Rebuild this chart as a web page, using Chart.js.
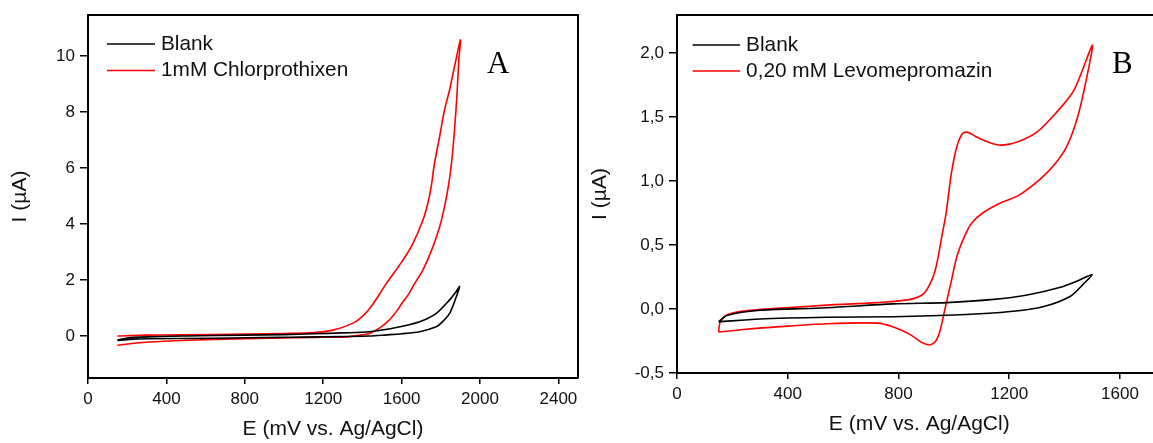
<!DOCTYPE html>
<html>
<head>
<meta charset="utf-8">
<script src="https://cdn.jsdelivr.net/npm/chart.js@4/dist/chart.umd.min.js"></script>
<style>
  html, body { margin: 0; padding: 0; background: #fff; overflow: hidden; }
  #wrap { position: relative; width: 1153px; height: 443px; overflow: hidden; background: #fff; }
  canvas { position: absolute; top: 0; }
  #cA { left: 0; }
  #cB { left: 580px; }
</style>
</head>
<body>
<div id="wrap">
  <canvas id="cA" width="580" height="443"></canvas>
  <canvas id="cB" width="590" height="443"></canvas>
</div>
<script>
// ---------- Panel A data (E in mV, I in µA) ----------
const aLabels = ['Blank', '1mM Chlorprothixen'];
const aBlankE = [150, 200, 300, 500, 800, 1000, 1150, 1300, 1437, 1573, 1692, 1777, 1845, 1875, 1896, 1879, 1845, 1800, 1777, 1692, 1600, 1522, 1437, 1300, 1100, 980, 640, 300, 200, 150];
const aBlankI = [-0.14, -0.07, -0.03, 0.0, 0.03, 0.05, 0.08, 0.11, 0.15, 0.30, 0.51, 0.81, 1.29, 1.55, 1.77, 1.40, 0.81, 0.45, 0.33, 0.15, 0.08, 0.04, 0.0, -0.02, -0.04, -0.05, -0.08, -0.10, -0.13, -0.16];
const aDrugE = [150, 300, 470, 810, 1000, 1150, 1250, 1350, 1400, 1450, 1520, 1607, 1658, 1709, 1734, 1751, 1768, 1794, 1819, 1845, 1870, 1900, 1892, 1882, 1870, 1858, 1841, 1819, 1794, 1760, 1709, 1660, 1641, 1600, 1573, 1530, 1490, 1440, 1400, 1318, 1150, 978, 640, 385, 250, 150];
const aDrugI = [0.0, 0.03, 0.04, 0.07, 0.09, 0.12, 0.21, 0.45, 0.70, 1.10, 1.85, 2.71, 3.31, 4.14, 4.74, 5.33, 6.17, 7.12, 8.07, 8.79, 9.62, 10.57, 9.86, 8.55, 7.36, 6.40, 5.45, 4.62, 3.90, 3.19, 2.36, 1.80, 1.55, 1.15, 0.87, 0.52, 0.30, 0.10, 0.04, -0.03, -0.05, -0.07, -0.12, -0.19, -0.25, -0.33];
const aXTicks = [0, 400, 800, 1200, 1600, 2000, 2400];
const aYTicks = [0, 2, 4, 6, 8, 10];

// ---------- Panel B data ----------
const bLabels = ['Blank', '0,20 mM Levomepromazin'];
const bBlankE = [150, 180, 300, 541, 782, 975, 1144, 1265, 1385, 1458, 1500, 1470, 1421, 1325, 1204, 1024, 782, 541, 300, 150];
const bBlankI = [-0.10, -0.05, -0.01, 0.01, 0.04, 0.05, 0.075, 0.11, 0.17, 0.23, 0.27, 0.20, 0.10, 0.02, -0.02, -0.045, -0.06, -0.065, -0.078, -0.10];
const bDrugE = [150, 156, 180, 240, 360, 541, 722, 843, 891, 921, 938, 955, 972, 991, 1011, 1031, 1051, 1077, 1117, 1170, 1236, 1302, 1368, 1434, 1500, 1481, 1447, 1408, 1368, 1315, 1236, 1170, 1104, 1064, 1038, 1011, 990, 970, 950, 935, 915, 900, 879, 843, 782, 722, 541, 360, 240, 150];
const bDrugI = [-0.18, -0.10, -0.047, -0.016, 0.005, 0.03, 0.05, 0.075, 0.12, 0.23, 0.35, 0.55, 0.75, 1.06, 1.27, 1.37, 1.38, 1.35, 1.31, 1.28, 1.31, 1.385, 1.53, 1.71, 2.06, 1.82, 1.50, 1.27, 1.14, 1.02, 0.89, 0.83, 0.75, 0.67, 0.565, 0.41, 0.21, 0.02, -0.17, -0.25, -0.28, -0.275, -0.255, -0.20, -0.14, -0.11, -0.115, -0.14, -0.16, -0.18];
const bXTicks = [0, 400, 800, 1200, 1600];
const bYTicks = [-0.5, 0, 0.5, 1.0, 1.5, 2.0];

const SANS = '"Liberation Sans", Arial, sans-serif';
const zip = (xs, ys) => xs.map((x, i) => ({ x: x, y: ys[i] }));

const insideLegend = {
  id: 'insideLegend',
  afterDraw(chart, args, o) {
    const ctx = chart.ctx;
    const ca = chart.chartArea;
    ctx.save();
    // box top/right borders
    ctx.strokeStyle = '#000';
    ctx.lineWidth = 2;
    ctx.beginPath();
    ctx.moveTo(ca.left, ca.top);
    ctx.lineTo(ca.right, ca.top);
    ctx.lineTo(ca.right, ca.bottom);
    ctx.stroke();
    ctx.font = '20.8px ' + SANS;
    ctx.textBaseline = 'middle';
    ctx.textAlign = 'left';
    chart.data.datasets.forEach((ds, i) => {
      const y = o.y + i * o.dy;
      ctx.strokeStyle = ds.borderColor;
      ctx.lineWidth = 1.6;
      ctx.beginPath();
      ctx.moveTo(o.x, y);
      ctx.lineTo(o.x + o.len, y);
      ctx.stroke();
      ctx.fillStyle = '#111';
      ctx.fillText(ds.label, o.x + o.len + o.gap, y);
    });
    ctx.font = '31px "Liberation Serif", "Times New Roman", serif';
    ctx.textBaseline = 'alphabetic';
    ctx.fillStyle = '#000';
    ctx.fillText(o.letter, o.lx, o.ly);
    ctx.restore();
  }
};

function makeChart(id, cfg) {
  const tickFont = { family: SANS, size: 17 };
  const titleFont = { family: SANS, size: 21 };
  return new Chart(document.getElementById(id), {
    type: 'scatter',
    data: {
      datasets: [
        { label: cfg.labels[0], data: zip(cfg.blankE, cfg.blankI), borderColor: '#000000', backgroundColor: '#000000' },
        { label: cfg.labels[1], data: zip(cfg.drugE, cfg.drugI), borderColor: '#ff0000', backgroundColor: '#ff0000' }
      ].map(d => Object.assign(d, { showLine: true, pointRadius: 0, borderWidth: 1.6, tension: 0.3, fill: false }))
    },
    options: {
      responsive: false,
      animation: false,
      events: [],
      layout: { padding: { left: 0, right: cfg.padRight, top: 15, bottom: 0 } },
      plugins: {
        legend: { display: false },
        tooltip: { enabled: false },
        insideLegend: cfg.legend
      },
      scales: {
        x: {
          type: 'linear', position: 'bottom', min: 0, max: cfg.xMax,
          afterBuildTicks: s => { s.ticks = cfg.xTicks.map(v => ({ value: v })); },
          afterFit: s => { s.height = cfg.xAxisH; s.paddingLeft = 0; s.paddingRight = 0; },
          ticks: { color: '#111', font: tickFont, padding: 5, maxRotation: 0, autoSkip: false, callback: v => String(v) },
          grid: { drawOnChartArea: false, drawTicks: true, tickLength: 6, color: '#000', lineWidth: 1.5 },
          border: { display: true, color: '#000', width: 2 },
          title: { display: true, text: 'E (mV vs. Ag/AgCl)', color: '#111', font: titleFont, padding: { top: 0, bottom: cfg.xTitlePad } }
        },
        y: {
          type: 'linear', position: 'left', min: cfg.yMin, max: cfg.yMax,
          afterBuildTicks: s => { s.ticks = cfg.yTicks.map(v => ({ value: v })); },
          afterFit: s => { s.width = cfg.yAxisW; s.paddingTop = 0; s.paddingBottom = 0; },
          ticks: { color: '#111', font: tickFont, padding: 5, callback: cfg.yFmt },
          grid: { drawOnChartArea: false, drawTicks: true, tickLength: 8, color: '#000', lineWidth: 1.5 },
          border: { display: true, color: '#000', width: 2 },
          title: { display: true, text: 'I (µA)', color: '#111', font: titleFont, padding: { top: 8, bottom: 0 } }
        }
      }
    },
    plugins: [insideLegend]
  });
}

makeChart('cA', {
  labels: aLabels, blankE: aBlankE, blankI: aBlankI, drugE: aDrugE, drugI: aDrugI,
  xTicks: aXTicks, yTicks: aYTicks, xMax: 2500, yMin: -1.5, yMax: 11.46,
  padRight: 2, xAxisH: 65, yAxisW: 88, xTitlePad: 1,
  yFmt: v => String(v),
  legend: { x: 107, y: 44, dy: 26.5, len: 48, gap: 6, letter: 'A', lx: 487, ly: 73 }
});

makeChart('cB', {
  labels: bLabels, blankE: bBlankE, blankI: bBlankI, drugE: bDrugE, drugI: bDrugI,
  xTicks: bXTicks, yTicks: bYTicks, xMax: 1750, yMin: -0.5, yMax: 2.297,
  padRight: 8.5, xAxisH: 70, yAxisW: 97, xTitlePad: 6,
  yFmt: v => Number(v).toFixed(1).replace('.', ','),
  legend: { x: 112.6, y: 45, dy: 26, len: 47.5, gap: 6, letter: 'B', lx: 532, ly: 73 }
});
</script>
</body>
</html>
